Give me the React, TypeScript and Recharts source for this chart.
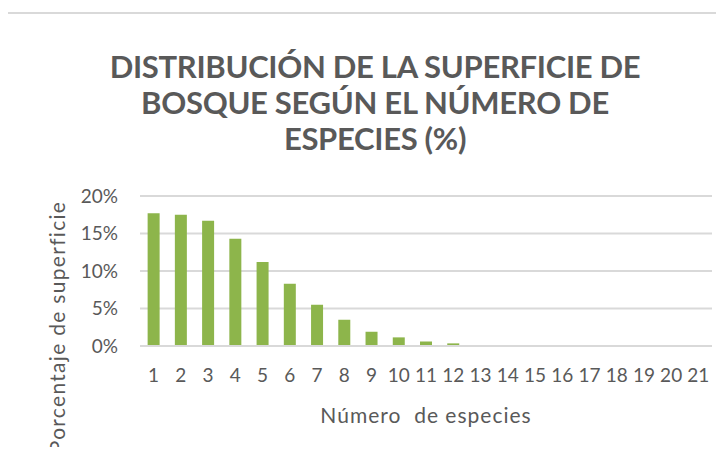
import { BarChart, Bar, XAxis, YAxis, CartesianGrid } from "recharts";

const especies = [
  "1", "2", "3", "4", "5", "6", "7", "8", "9", "10", "11",
  "12", "13", "14", "15", "16", "17", "18", "19", "20", "21",
];
const superficie = [
  17.7, 17.5, 16.7, 14.3, 11.2, 8.3, 5.5, 3.5, 1.9, 1.15, 0.6,
  0.35, 0.1, 0.05, 0.03, 0.02, 0.01, 0.01, 0, 0, 0,
];
const yTicks = [0, 5, 10, 15, 20];

const data = especies.map((n, i) => ({ n, v: superficie[i] }));

const gray = "#595959";
const font = "Lato, 'Open Sans', sans-serif";

export default function App() {
  return (
    <div style={{ position: "relative", width: 724, height: 455, overflow: "hidden", margin: -8, background: "#fff", fontFamily: font }}>
      <div style={{ position: "absolute", left: 6, top: 12, width: 760, height: 500, borderLeft: "2px solid #d9d9d9", borderTop: "2px solid #d9d9d9" }} />
      <div style={{ position: "absolute", left: 13, width: 724, top: 48, textAlign: "center", color: gray, fontSize: 31, lineHeight: "36px", fontWeight: 700, letterSpacing: -0.3 }}>
        <div>DISTRIBUCIÓN DE LA SUPERFICIE DE</div>
        <div>BOSQUE SEGÚN EL NÚMERO DE</div>
        <div>ESPECIES (%)</div>
      </div>
      <div style={{ position: "absolute", left: 57 - 150, top: 327 - 13, width: 300, height: 26, lineHeight: "26px", textAlign: "center", transform: "rotate(-90deg)", color: gray, fontSize: 21, letterSpacing: 1.3 }}>
        Porcentaje de superficie
      </div>
      <div style={{ position: "absolute", top: 0, left: 0 }}>
        <BarChart width={724} height={455} data={data} margin={{ top: 196, right: 12, bottom: 0, left: 0 }} barCategoryGap="28%">
          <CartesianGrid vertical={false} stroke="#d9d9d9" strokeWidth={2} />
          <XAxis dataKey="n" height={109} tickLine={false} axisLine={{ stroke: "#d9d9d9", strokeWidth: 2 }} interval={0} tickMargin={17}
            tick={{ fill: gray, fontSize: 19, fontFamily: font }}
            label={{ value: "Número\u00a0\u00a0de especies", position: "insideBottom", offset: 32, fill: gray, fontSize: 21, fontFamily: font, style: { letterSpacing: 1 } }} />
          <YAxis width={140} domain={[0, 20]} ticks={yTicks} tickFormatter={(v: number) => `${v}%`} tickLine={false} axisLine={false} tickMargin={16}
            tick={{ fill: gray, fontSize: 19, fontFamily: font }} />
          <Bar dataKey="v" fill="#8db54b" isAnimationActive={false} />
        </BarChart>
      </div>
    </div>
  );
}
